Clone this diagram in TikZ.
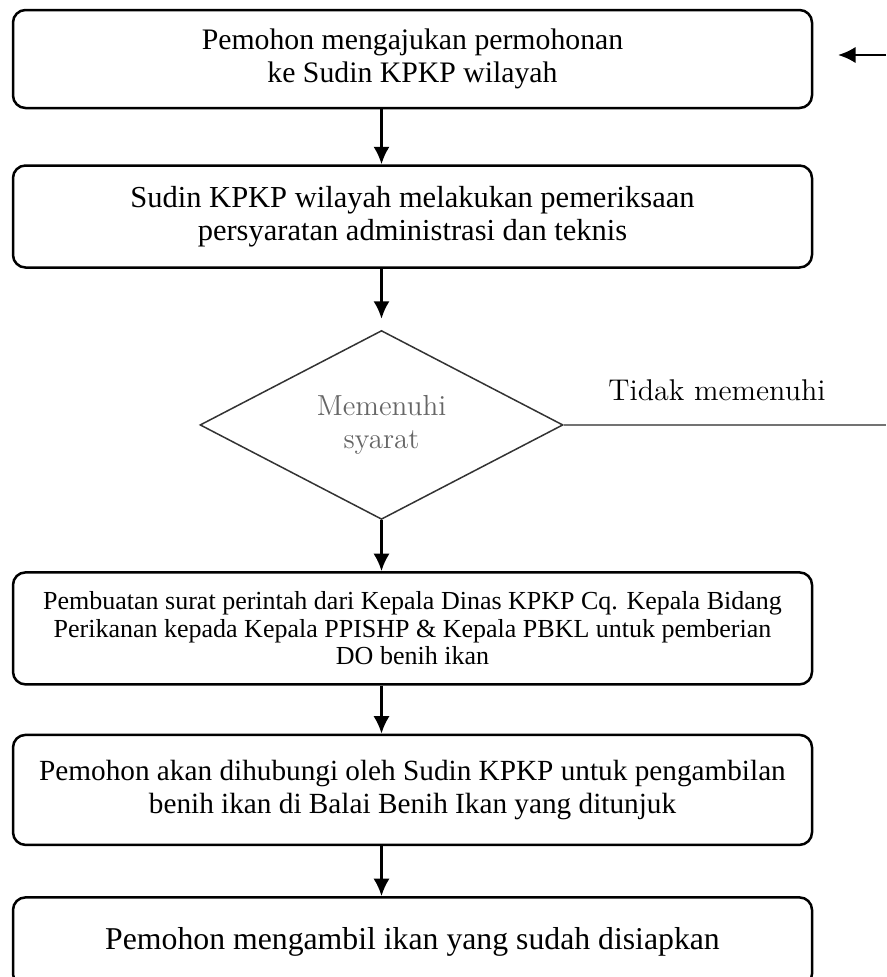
\documentclass[tikz,border=0pt]{standalone}
\usepackage{fontspec}
\newfontfamily\boxfont{Liberation Serif}
\usetikzlibrary{arrows.meta,positioning,shapes.geometric}
\newcommand{\stepfont}[1]{\boxfont\fontsize{#1}{13pt}\selectfont}
\tikzset{
  stepbox/.style={draw,rounded corners=5pt,line width=1pt,minimum width=319.6pt,
    inner sep=0pt,align=center,font=\stepfont{12.2}},
  smallstep/.style={stepbox,font=\boxfont\fontsize{10.4}{11}\selectfont},
  decision/.style={diamond,draw=black!80,line width=0.6pt,minimum width=145.2pt,
    minimum height=74.4pt,inner sep=0pt,align=center,text=black!60,
    font=\fontsize{11.6}{13.4}\selectfont},
  flowchart/.style={>={Latex[length=7pt,width=6.5pt]},line width=1pt},
  flow/.style={->},
  rejected/.style={draw=black!55,line width=0.5pt},
  sidelabel/.style={font=\fontsize{12}{14}\selectfont}
}

\begin{document}
\begin{tikzpicture}[flowchart]
  \useasboundingbox (0,0) rectangle (354.4pt,-390.8pt);
  \node (b1) [stepbox,minimum height=39.2pt,font=\stepfont{11.9}] at (165pt,-23.6pt) {Pemohon mengajukan permohonan\\ke Sudin KPKP wilayah};
  \node (b2) [stepbox,minimum height=40.8pt,below=22pt of b1] {Sudin KPKP wilayah melakukan pemeriksaan\\persyaratan administrasi dan teknis};
  \node (dia) [decision,below=24.4pt of b2,xshift=-12.4pt] {Memenuhi\\syarat};
  \node (b3) [smallstep,minimum height=44.8pt,below=20.4pt of dia,xshift=12.4pt] {Pembuatan surat perintah dari Kepala Dinas KPKP Cq. Kepala Bidang\\Perikanan kepada Kepala PPISHP \& Kepala PBKL untuk pemberian\\DO benih ikan};
  \node (b4) [stepbox,minimum height=44pt,below=19.2pt of b3,font=\stepfont{11.7}] {Pemohon akan dihubungi oleh Sudin KPKP untuk pengambilan\\benih ikan di Balai Benih Ikan yang ditunjuk};
  \node (b5) [stepbox,minimum height=35.6pt,below=20pt of b4,font=\stepfont{12.7}] {Pemohon mengambil ikan yang sudah disiapkan};
  \node (nolabel) [sidelabel] at (286.8pt,-156pt) {Tidak memenuhi};
  \coordinate (entry) at (354.4pt,-22pt);
  \coordinate (entrytip) at (335.2pt,-22pt);
  \coordinate (rim) at (354.4pt,0);
  \path[flow]
    (b1.south -| dia) edge (b2.north -| dia)
    (b2.south -| dia) edge[shorten >=4.4pt] (dia.north)
    (dia.south) edge (b3.north -| dia)
    (b3.south -| dia) edge (b4.north -| dia)
    (b4.south -| dia) edge (b5.north -| dia)
    (entry) edge (entrytip);
  \draw[rejected] (dia.east) -- (dia.east -| rim);
\end{tikzpicture}
\end{document}
